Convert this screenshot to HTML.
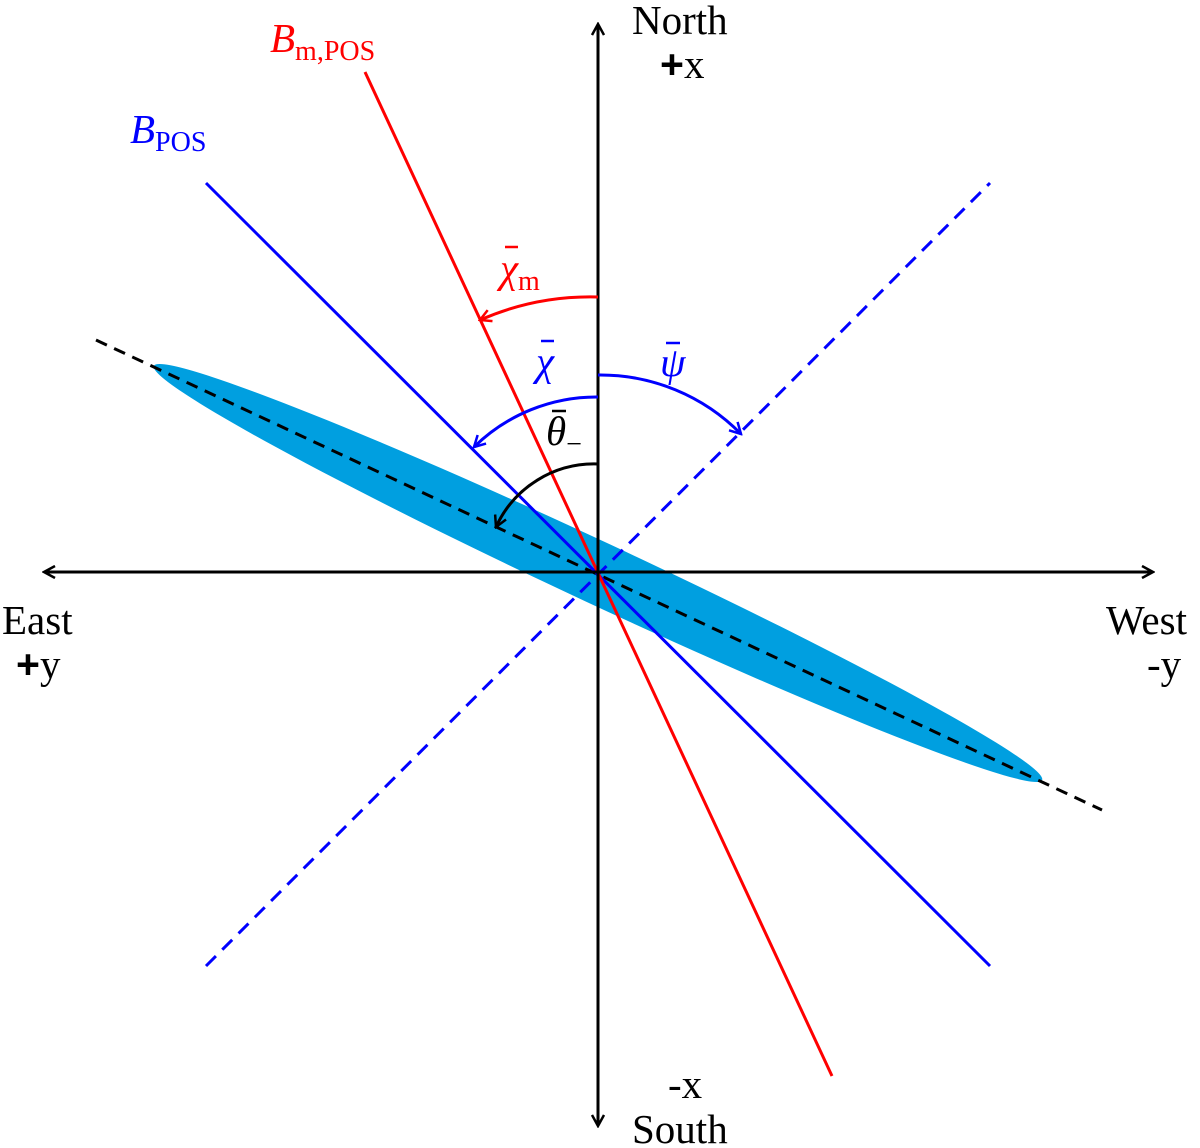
<!DOCTYPE html>
<html><head><meta charset="utf-8"><style>body{margin:0;background:#fff}svg{display:block}</style></head>
<body>
<svg width="1200" height="1148" viewBox="0 0 1200 1148" xmlns="http://www.w3.org/2000/svg" font-family="Liberation Serif, serif">
<defs>
<marker id="ak" markerWidth="14" markerHeight="14" refX="12" refY="7" orient="auto" markerUnits="userSpaceOnUse"><path d="M1,1 L12,7 L1,13" fill="none" stroke="#000" stroke-width="2.5"/></marker>
<marker id="ar" markerWidth="14" markerHeight="14" refX="12" refY="7" orient="auto" markerUnits="userSpaceOnUse"><path d="M1,1 L12,7 L1,13" fill="none" stroke="#f00" stroke-width="2.5"/></marker>
<marker id="ab" markerWidth="14" markerHeight="14" refX="12" refY="7" orient="auto" markerUnits="userSpaceOnUse"><path d="M1,1 L12,7 L1,13" fill="none" stroke="#00f" stroke-width="2.5"/></marker>
</defs>
<ellipse cx="598" cy="573" rx="490" ry="31" fill="#009fe0" transform="rotate(25 598 573)"/>
<line x1="96" y1="340" x2="1102" y2="810" stroke="#000" stroke-width="3" stroke-dasharray="12,8"/>
<line x1="206" y1="966" x2="990" y2="183" stroke="#00f" stroke-width="3" stroke-dasharray="14,9"/>
<line x1="206" y1="183" x2="990" y2="966" stroke="#00f" stroke-width="3"/>
<line x1="365" y1="72" x2="832" y2="1076" stroke="#f00" stroke-width="3"/>
<line x1="598" y1="572" x2="598" y2="24" stroke="#000" stroke-width="3" marker-end="url(#ak)"/>
<line x1="598" y1="572" x2="598" y2="1126" stroke="#000" stroke-width="3" marker-end="url(#ak)"/>
<line x1="598" y1="572" x2="44" y2="572" stroke="#000" stroke-width="3" marker-end="url(#ak)"/>
<line x1="598" y1="572" x2="1153" y2="572" stroke="#000" stroke-width="3" marker-end="url(#ak)"/>
<path d="M598,297 A275,275 0 0 0 480,320" fill="none" stroke="#f00" stroke-width="3" marker-end="url(#ar)"/>
<path d="M598,397 A175,175 0 0 0 474,447" fill="none" stroke="#00f" stroke-width="3" marker-end="url(#ab)"/>
<path d="M598,375 A197,197 0 0 1 741,434" fill="none" stroke="#00f" stroke-width="3" marker-end="url(#ab)"/>
<path d="M598,464 A108,108 0 0 0 496,527" fill="none" stroke="#000" stroke-width="3" marker-end="url(#ak)"/>
<g font-size="41">
<text x="632" y="34">North</text>
<text x="660" y="78"><tspan font-family="Liberation Sans, sans-serif" font-weight="bold">+</tspan>x</text>
<text x="632" y="1143">South</text>
<text x="668" y="1098">-x</text>
<text x="2" y="634">East</text>
<text x="16" y="678"><tspan font-family="Liberation Sans, sans-serif" font-weight="bold">+</tspan>y</text>
<text x="1106" y="634">West</text>
<text x="1147" y="678">-y</text>
<text x="270" y="52" fill="#f00" font-style="italic">B<tspan font-style="normal" font-size="28" dy="8">m,POS</tspan></text>
<text x="130" y="143" fill="#00f" font-style="italic">B<tspan font-style="normal" font-size="28" dy="8">POS</tspan></text>
<text x="500" y="282" fill="#f00" font-style="italic">χ<tspan font-style="normal" font-size="28" dy="8">m</tspan></text>
<line x1="505" y1="247" x2="518" y2="247" stroke="#f00" stroke-width="2.5"/>
<text x="536" y="375" fill="#00f" font-style="italic">χ</text>
<line x1="541" y1="341" x2="554" y2="341" stroke="#00f" stroke-width="2.5"/>
<text x="660" y="376" fill="#00f" font-style="italic">ψ</text>
<line x1="666" y1="343" x2="680" y2="343" stroke="#00f" stroke-width="2.5"/>
<text x="546" y="445" fill="#000" font-style="italic">θ<tspan font-style="normal" font-size="28" dy="8">−</tspan></text>
<line x1="552" y1="411" x2="566" y2="411" stroke="#000" stroke-width="2.5"/>
</g>
</svg>
</body></html>
